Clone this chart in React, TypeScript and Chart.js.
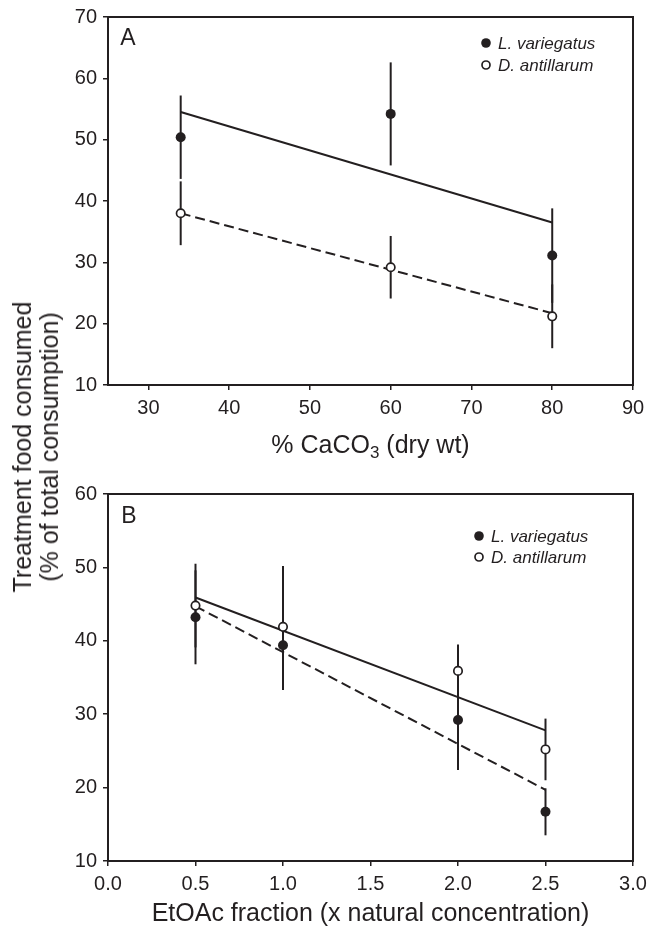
import React, { useEffect, useRef } from "react";
import { Chart, registerables } from "chart.js";

Chart.register(...registerables);

const INK = "#231f20";
const FONT = '"Liberation Sans", Arial, Helvetica, sans-serif';

const seriesNames = ["L. variegatus", "D. antillarum"];

// ---- Panel A: % CaCO3 ----
const caco3X = [34, 60, 80];
const lvA = [50.4, 54.2, 31.1];
const lvErrA = [6.8, 8.4, 7.7];
const daA = [38.0, 29.2, 21.2];
const daErrA = [5.2, 5.1, 5.2];
const fitXA = [34, 80];
const solidFitA = [54.5, 36.5];
const dashedFitA = [38.0, 21.7];
const xTicksA = [30, 40, 50, 60, 70, 80, 90];
const xTickLabelsA = ["30", "40", "50", "60", "70", "80", "90"];
const yTicksA = [10, 20, 30, 40, 50, 60, 70];

// ---- Panel B: EtOAc fraction ----
const etoacX = [0.5, 1.0, 2.0, 2.5];
const lvB = [43.2, 39.4, 29.2, 16.7];
const lvErrB = [6.4, 6.1, 6.8, 3.2];
const daB = [44.8, 41.9, 35.9, 25.2];
const daErrB = [5.7, 8.3, 3.6, 4.2];
const fitXB = [0.5, 2.5];
const solidFitB = [45.9, 27.8];
const dashedFitB = [44.7, 19.7];
const xTicksB = [0, 0.5, 1, 1.5, 2, 2.5, 3];
const xTickLabelsB = ["0.0", "0.5", "1.0", "1.5", "2.0", "2.5", "3.0"];
const yTicksB = [10, 20, 30, 40, 50, 60];

type PanelCfg = {
  letter: string;
  letterPos: [number, number];
  xs: number[];
  lv: number[];
  lvErr: number[];
  da: number[];
  daErr: number[];
  fitX: number[];
  solidFit: number[];
  dashedFit: number[];
  xMin: number;
  xMax: number;
  yMin: number;
  yMax: number;
  xTicks: number[];
  xTickLabels: string[];
  yTicks: number[];
  padTop: number;
  xAxisHeight: number;
  legendX: number;
  legendY: [number, number];
  drawTitle: (ctx: CanvasRenderingContext2D, cx: number) => void;
};

function makeChart(canvas: HTMLCanvasElement, c: PanelCfg) {
  const panelPlugin = {
    id: "panel",
    beforeDatasetsDraw(chart: any) {
      const ctx = chart.ctx as CanvasRenderingContext2D;
      const xs = chart.scales.x;
      const ys = chart.scales.y;
      ctx.save();
      ctx.strokeStyle = INK;
      ctx.lineWidth = 2;
      const bars = [
        { v: c.lv, e: c.lvErr },
        { v: c.da, e: c.daErr },
      ];
      bars.forEach((b) => {
        c.xs.forEach((x, i) => {
          const px = xs.getPixelForValue(x);
          ctx.beginPath();
          ctx.moveTo(px, ys.getPixelForValue(b.v[i] - b.e[i]));
          ctx.lineTo(px, ys.getPixelForValue(b.v[i] + b.e[i]));
          ctx.stroke();
        });
      });
      ctx.restore();
    },
    afterDraw(chart: any) {
      const ctx = chart.ctx as CanvasRenderingContext2D;
      const a = chart.chartArea;
      ctx.save();
      // frame
      ctx.strokeStyle = INK;
      ctx.lineWidth = 2;
      ctx.strokeRect(a.left, a.top, a.right - a.left, a.bottom - a.top);
      // panel letter
      ctx.fillStyle = INK;
      ctx.textAlign = "center";
      ctx.textBaseline = "alphabetic";
      ctx.font = `23px ${FONT}`;
      ctx.fillText(c.letter, c.letterPos[0], c.letterPos[1]);
      // legend
      ctx.textAlign = "left";
      ctx.font = `italic 17px ${FONT}`;
      seriesNames.forEach((name, i) => {
        const y = c.legendY[i];
        ctx.beginPath();
        if (i === 0) {
          ctx.arc(c.legendX, y, 4.8, 0, Math.PI * 2);
          ctx.fillStyle = INK;
          ctx.fill();
        } else {
          ctx.arc(c.legendX, y, 4, 0, Math.PI * 2);
          ctx.fillStyle = "#fff";
          ctx.fill();
          ctx.lineWidth = 1.7;
          ctx.strokeStyle = INK;
          ctx.stroke();
        }
        ctx.fillStyle = INK;
        ctx.fillText(name, c.legendX + 12, y + 6);
      });
      // x axis title
      c.drawTitle(ctx, (a.left + a.right) / 2);
      ctx.restore();
    },
  };

  const tickFont = { size: 20, family: FONT };

  return new Chart(canvas, {
    type: "scatter",
    data: {
      datasets: [
        {
          label: seriesNames[0],
          data: c.xs.map((x, i) => ({ x, y: c.lv[i] })),
          pointRadius: 5,
          pointBackgroundColor: INK,
          pointBorderColor: INK,
          pointBorderWidth: 0,
          showLine: false,
        },
        {
          label: seriesNames[1],
          data: c.xs.map((x, i) => ({ x, y: c.da[i] })),
          pointRadius: 4.2,
          pointBackgroundColor: "#ffffff",
          pointBorderColor: INK,
          pointBorderWidth: 1.7,
          showLine: false,
        },
        {
          label: "fit solid",
          data: c.fitX.map((x, i) => ({ x, y: c.solidFit[i] })),
          showLine: true,
          borderColor: INK,
          borderWidth: 2,
          pointRadius: 0,
          fill: false,
        },
        {
          label: "fit dashed",
          data: c.fitX.map((x, i) => ({ x, y: c.dashedFit[i] })),
          showLine: true,
          borderColor: INK,
          borderWidth: 2,
          borderDash: [10, 5],
          pointRadius: 0,
          fill: false,
        },
      ],
    },
    options: {
      animation: false,
      responsive: false,
      events: [],
      layout: { padding: { left: 0, top: c.padTop, right: 14, bottom: 0 } },
      plugins: { legend: { display: false }, tooltip: { enabled: false } },
      scales: {
        x: {
          type: "linear",
          min: c.xMin,
          max: c.xMax,
          afterBuildTicks: (s: any) => {
            s.ticks = c.xTicks.map((v) => ({ value: v }));
          },
          afterFit: (s: any) => {
            s.height = c.xAxisHeight;
            s.paddingLeft = 0;
            s.paddingRight = 0;
          },
          ticks: {
            color: INK,
            font: tickFont,
            padding: 6,
            maxRotation: 0,
            autoSkip: false,
            callback: (v: any) => {
              const idx = c.xTicks.indexOf(Number(v));
              return idx >= 0 ? c.xTickLabels[idx] : "";
            },
          },
          grid: {
            drawOnChartArea: false,
            drawTicks: true,
            tickLength: 5,
            color: INK,
            lineWidth: 1.5,
          },
          border: { display: false },
        },
        y: {
          type: "linear",
          min: c.yMin,
          max: c.yMax,
          afterBuildTicks: (s: any) => {
            s.ticks = c.yTicks.map((v) => ({ value: v }));
          },
          afterFit: (s: any) => {
            s.width = 108;
            s.paddingTop = 0;
            s.paddingBottom = 0;
          },
          ticks: {
            color: INK,
            font: tickFont,
            padding: 6,
            autoSkip: false,
            callback: (v: any) => String(v),
          },
          grid: {
            drawOnChartArea: false,
            drawTicks: true,
            tickLength: 5,
            color: INK,
            lineWidth: 1.5,
          },
          border: { display: false },
        },
      },
    } as any,
    plugins: [panelPlugin],
  });
}

const panelA: PanelCfg = {
  letter: "A",
  letterPos: [128, 45],
  xs: caco3X,
  lv: lvA,
  lvErr: lvErrA,
  da: daA,
  daErr: daErrA,
  fitX: fitXA,
  solidFit: solidFitA,
  dashedFit: dashedFitA,
  xMin: 25,
  xMax: 90,
  yMin: 10,
  yMax: 70,
  xTicks: xTicksA,
  xTickLabels: xTickLabelsA,
  yTicks: yTicksA,
  padTop: 17,
  xAxisHeight: 75,
  legendX: 486,
  legendY: [43, 65],
  drawTitle: (ctx, cx) => {
    const big = `25px ${FONT}`;
    const small = `17px ${FONT}`;
    const p1 = "% CaCO";
    const p2 = "3";
    const p3 = " (dry wt)";
    ctx.font = big;
    const w1 = ctx.measureText(p1).width;
    const w3 = ctx.measureText(p3).width;
    ctx.font = small;
    const w2 = ctx.measureText(p2).width;
    const total = w1 + w2 + w3;
    let x = cx - total / 2;
    const base = 453;
    ctx.fillStyle = INK;
    ctx.textAlign = "left";
    ctx.textBaseline = "alphabetic";
    ctx.font = big;
    ctx.fillText(p1, x, base);
    x += w1;
    ctx.font = small;
    ctx.fillText(p2, x, base + 5);
    x += w2;
    ctx.font = big;
    ctx.fillText(p3, x, base);
  },
};

const panelB: PanelCfg = {
  letter: "B",
  letterPos: [129, 63],
  xs: etoacX,
  lv: lvB,
  lvErr: lvErrB,
  da: daB,
  daErr: daErrB,
  fitX: fitXB,
  solidFit: solidFitB,
  dashedFit: dashedFitB,
  xMin: 0,
  xMax: 3,
  yMin: 10,
  yMax: 60,
  xTicks: xTicksB,
  xTickLabels: xTickLabelsB,
  yTicks: yTicksB,
  padTop: 34,
  xAxisHeight: 67,
  legendX: 479,
  legendY: [76, 97],
  drawTitle: (ctx, cx) => {
    ctx.fillStyle = INK;
    ctx.textAlign = "center";
    ctx.textBaseline = "alphabetic";
    ctx.font = `25px ${FONT}`;
    ctx.fillText("EtOAc fraction (x natural concentration)", cx, 461);
  },
};

export default function App() {
  const refA = useRef<HTMLCanvasElement | null>(null);
  const refB = useRef<HTMLCanvasElement | null>(null);

  useEffect(() => {
    const a = refA.current ? makeChart(refA.current, panelA) : null;
    const b = refB.current ? makeChart(refB.current, panelB) : null;
    return () => {
      a?.destroy();
      b?.destroy();
    };
  }, []);

  return (
    <div
      style={{
        position: "absolute",
        left: 0,
        top: 0,
        width: 647,
        height: 928,
        background: "#fff",
        overflow: "hidden",
      }}
    >
      <canvas
        ref={refA}
        width={647}
        height={460}
        style={{ position: "absolute", left: 0, top: 0, width: 647, height: 460 }}
      />
      <canvas
        ref={refB}
        width={647}
        height={468}
        style={{ position: "absolute", left: 0, top: 460, width: 647, height: 468 }}
      />
      <div
        style={{
          position: "absolute",
          left: 35.5,
          top: 447,
          transform: "translate(-50%, -50%) rotate(-90deg)",
          whiteSpace: "nowrap",
          textAlign: "center",
          fontFamily: FONT,
          fontSize: 25,
          lineHeight: "27px",
          color: INK,
        }}
      >
        Treatment food consumed
        <br />
        (% of total consumption)
      </div>
    </div>
  );
}
